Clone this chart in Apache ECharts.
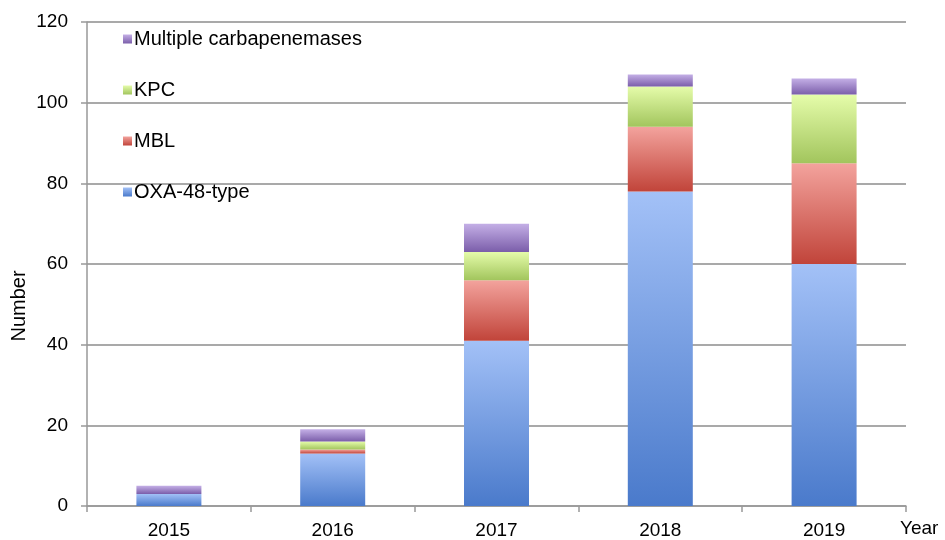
<!DOCTYPE html>
<html>
<head>
<meta charset="utf-8">
<script src="https://cdn.jsdelivr.net/npm/echarts@6/dist/echarts.min.js"></script>
<style>html,body{margin:0;padding:0;background:#fff}#c{width:945px;height:540px}</style>
</head>
<body>
<div id="c"></div>
<script>
var years = ['2015', '2016', '2017', '2018', '2019'];
var oxa48 = [3, 13, 41, 78, 60];
var mbl = [0, 1, 15, 16, 25];
var kpc = [0, 2, 7, 10, 17];
var multiple = [2, 3, 7, 3, 4];
var yTicks = [0, 20, 40, 60, 80, 100, 120];

function grad(top, bottom) {
  return new echarts.graphic.LinearGradient(0, 0, 0, 1, [
    {offset: 0, color: top}, {offset: 1, color: bottom}
  ]);
}
var FONT = 'Liberation Sans, Arial, Helvetica, sans-serif';
var chart = echarts.init(document.getElementById('c'));
function mk(name, data, top, bottom) {
  return {
    name: name, type: 'bar', stack: 'total', data: data, barWidth: 65,
    itemStyle: {color: grad(top, bottom)},
    emphasis: {disabled: true}
  };
}
chart.setOption({
  animation: false,
  textStyle: {fontFamily: FONT},
  grid: {left: 87, right: 39, top: 22, bottom: 34, containLabel: false, outerBoundsMode: 'none'},
  legend: {
    orient: 'vertical', left: 118, top: 24, itemWidth: 9, itemHeight: 9, itemGap: 31,
    icon: 'rect',
    data: ['Multiple carbapenemases', 'KPC', 'MBL', 'OXA-48-type'],
    textStyle: {fontSize: 20, color: '#000', fontFamily: FONT, padding: [0, 0, 0, -3]},
    selectedMode: false
  },
  xAxis: {
    type: 'category', data: years,
    name: 'Year', nameLocation: 'end', nameGap: -6, nameMoveOverlap: false,
    nameTextStyle: {fontSize: 19, color: '#000', verticalAlign: 'top', padding: [13, 0, 0, 0], fontFamily: FONT},
    axisLine: {lineStyle: {color: '#999', width: 1.5}},
    axisTick: {show: true, length: 6, lineStyle: {color: '#999', width: 1.5}},
    axisLabel: {fontSize: 19, color: '#000', margin: 15, fontFamily: FONT}
  },
  yAxis: {
    type: 'value', min: yTicks[0], max: yTicks[yTicks.length - 1], interval: 20,
    name: 'Number', nameLocation: 'middle', nameGap: 58, nameMoveOverlap: false,
    nameTextStyle: {fontSize: 20, color: '#000', fontFamily: FONT, padding: [0, 84, 0, 0]},
    axisLine: {show: true, lineStyle: {color: '#999', width: 1.5}},
    axisTick: {show: true, length: 6, lineStyle: {color: '#999', width: 1.5}},
    axisLabel: {fontSize: 19, color: '#000', margin: 19, fontFamily: FONT},
    splitLine: {lineStyle: {color: '#8c8c8c', width: 1.5}}
  },
  series: [
    mk('OXA-48-type', oxa48, '#a3c1f7', '#4a7acb'),
    mk('MBL', mbl, '#f3a39d', '#c1443a'),
    mk('KPC', kpc, '#e5fcaa', '#a2c55d'),
    mk('Multiple carbapenemases', multiple, '#c4afe6', '#7b5eaa')
  ]
});
</script>
</body>
</html>
